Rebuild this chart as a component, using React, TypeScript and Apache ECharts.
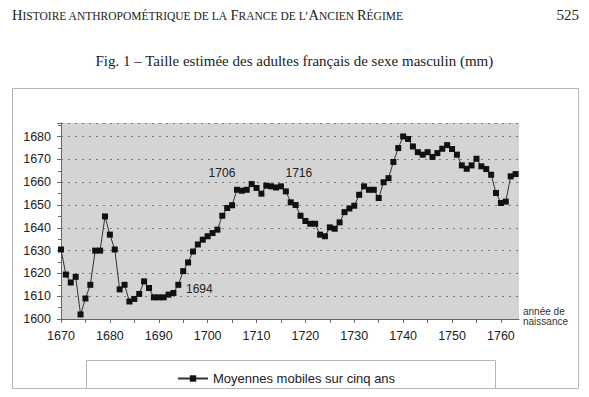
import React, { useEffect, useRef } from "react";
import * as echarts from "echarts";

const years: number[] = [];
for (let y = 1670; y <= 1763; y++) years.push(y);

const heights: number[] = [
  1630.5, 1619.5, 1616, 1618.5, 1602, 1609, 1615, 1630, 1630, 1645,
  1637, 1630.5, 1613, 1615, 1607.7, 1608.8, 1611, 1616.5, 1613.6, 1609.5,
  1609.5, 1609.5, 1610.7, 1611.4, 1615, 1621, 1624.8, 1629.6, 1632.7, 1634.8,
  1636.3, 1637.7, 1639.2, 1645.3, 1648.7, 1649.9, 1656.7, 1656.3, 1656.7, 1659.2,
  1657.5, 1655, 1658.5, 1658.2, 1657.7, 1658.2, 1656, 1651.2, 1650, 1645.3,
  1643, 1641.8, 1641.8, 1637, 1636.3, 1640.2, 1639.6, 1642.4, 1646.9, 1648.5,
  1649.7, 1654.5, 1658.2, 1656.7, 1656.7, 1653.1, 1660, 1661.8, 1668.9, 1675,
  1680.1, 1679, 1675.7, 1673.2, 1672.1, 1673.2, 1671.1, 1672.8, 1674.7, 1676.3,
  1674.6, 1672.1, 1667.4, 1665.9, 1667.4, 1670.3, 1667, 1665.8, 1663.3, 1655.3,
  1650.9, 1651.5, 1662.6, 1663.6,
];

const annotatedYears: number[] = [1694, 1706, 1716];
const annotationOffsets: number[][] = [[21, 4], [-15, -17], [13, -18]];

const xTickValues: number[] = [];
for (let v = 1670; v <= 1760; v += 5) xTickValues.push(v);
const xLabelValues: number[] = [1670, 1680, 1690, 1700, 1710, 1720, 1730, 1740, 1750, 1760];
const yLabelValues: number[] = [1600, 1610, 1620, 1630, 1640, 1650, 1660, 1670, 1680];

const seriesName = "Moyennes mobiles sur cinq ans";
const figTitle = "Fig. 1 \u2013 Taille estim\u00e9e des adultes fran\u00e7ais de sexe masculin (mm)";

export default function App() {
  const ref = useRef<HTMLDivElement>(null);
  useEffect(() => {
    if (!ref.current) return;
    const chart = echarts.init(ref.current, undefined, { renderer: "svg" });
    const data = years.map((yr, i) => {
      const k = annotatedYears.indexOf(yr);
      if (k < 0) return [yr, heights[i]];
      return {
        value: [yr, heights[i]],
        label: {
          show: true,
          formatter: String(yr),
          position: "inside",
          offset: annotationOffsets[k],
          color: "#222",
          fontSize: 12,
          fontFamily: "Liberation Sans, Arial, sans-serif",
        },
      };
    });
    chart.setOption({
      animation: false,
      backgroundColor: "#ffffff",
      grid: {
        left: 61,
        top: 123,
        width: 458,
        height: 196,
        show: true,
        backgroundColor: "#d4d4d4",
        borderWidth: 0,
        containLabel: false,
      },
      legend: {
        show: true,
        left: 172,
        top: 367,
        itemWidth: 30,
        itemHeight: 8,
        textStyle: {
          fontSize: 13,
          color: "#222",
          fontFamily: "Liberation Sans, Arial, sans-serif",
        },
        data: [seriesName],
      },
      graphic: [
        {
          type: "rect",
          shape: { x: 12.5, y: 88.5, width: 566, height: 300 },
          style: { fill: "none", stroke: "#b5b5b5", lineWidth: 1 },
          z: -1,
        },
        {
          type: "rect",
          shape: { x: 86.5, y: 360.5, width: 409, height: 28 },
          style: { fill: "none", stroke: "#b5b5b5", lineWidth: 1 },
          z: -1,
        },
        {
          type: "text",
          left: 12,
          top: 7,
          style: {
            text:
              "{b|H}{s|ISTOIRE ANTHROPOM\u00c9TRIQUE DE LA }{b|F}{s|RANCE DE L\u2019}{b|A}{s|NCIEN }{b|R}{s|\u00c9GIME}",
            fill: "#222",
            rich: {
              b: { fontSize: 14.5, fontFamily: "Liberation Serif, Times New Roman, serif", fill: "#222", verticalAlign: "bottom" },
              s: { fontSize: 11.5, fontFamily: "Liberation Serif, Times New Roman, serif", fill: "#222", verticalAlign: "bottom" },
            },
          },
        },
        {
          type: "text",
          right: 10,
          top: 7,
          style: {
            text: "525",
            fill: "#222",
            fontSize: 15,
            fontFamily: "Liberation Serif, Times New Roman, serif",
          },
        },
        {
          type: "text",
          left: "center",
          top: 53,
          style: {
            text: figTitle,
            fill: "#222",
            fontSize: 15,
            fontFamily: "Liberation Serif, Times New Roman, serif",
          },
        },
        {
          type: "text",
          left: 523,
          top: 306,
          style: {
            text: "ann\u00e9e de\nnaissance",
            fill: "#333",
            fontSize: 10,
            lineHeight: 10,
            fontFamily: "Liberation Sans, Arial, sans-serif",
          },
        },
      ],
      xAxis: {
        type: "value",
        min: 1670,
        max: 1763.7,
        interval: 5,
        axisLine: { show: true, lineStyle: { color: "#666", width: 1 } },
        axisTick: {
          show: true,
          inside: false,
          length: 4,
          customValues: xTickValues,
          lineStyle: { color: "#666" },
        },
        axisLabel: {
          show: true,
          customValues: xLabelValues,
          margin: 10,
          fontSize: 12.5,
          color: "#222",
          fontFamily: "Liberation Sans, Arial, sans-serif",
          formatter: (v: number) => String(v),
        },
        splitLine: { show: false },
      },
      yAxis: {
        type: "value",
        min: 1600,
        max: 1686,
        interval: 10,
        axisLine: { show: true, lineStyle: { color: "#666", width: 1 } },
        axisTick: { show: true, inside: false, length: 4, lineStyle: { color: "#666" } },
        minorTick: { show: true, splitNumber: 2, length: 3, lineStyle: { color: "#666" } },
        axisLabel: {
          show: true,
          customValues: yLabelValues,
          margin: 10,
          fontSize: 12.5,
          color: "#222",
          fontFamily: "Liberation Sans, Arial, sans-serif",
          formatter: (v: number) => String(v),
        },
        splitLine: {
          show: true,
          lineStyle: { color: "#7a7a7a", type: [2, 5], width: 1 },
        },
      },
      series: [
        {
          name: seriesName,
          type: "line",
          data: data,
          symbol: "rect",
          symbolSize: 6,
          showAllSymbol: true,
          itemStyle: { color: "#111" },
          lineStyle: { color: "#333", width: 1 },
        },
      ],
    });
    return () => chart.dispose();
  }, []);
  return (
    <div
      ref={ref}
      style={{ position: "absolute", left: 0, top: 0, width: 589, height: 397 }}
    />
  );
}
